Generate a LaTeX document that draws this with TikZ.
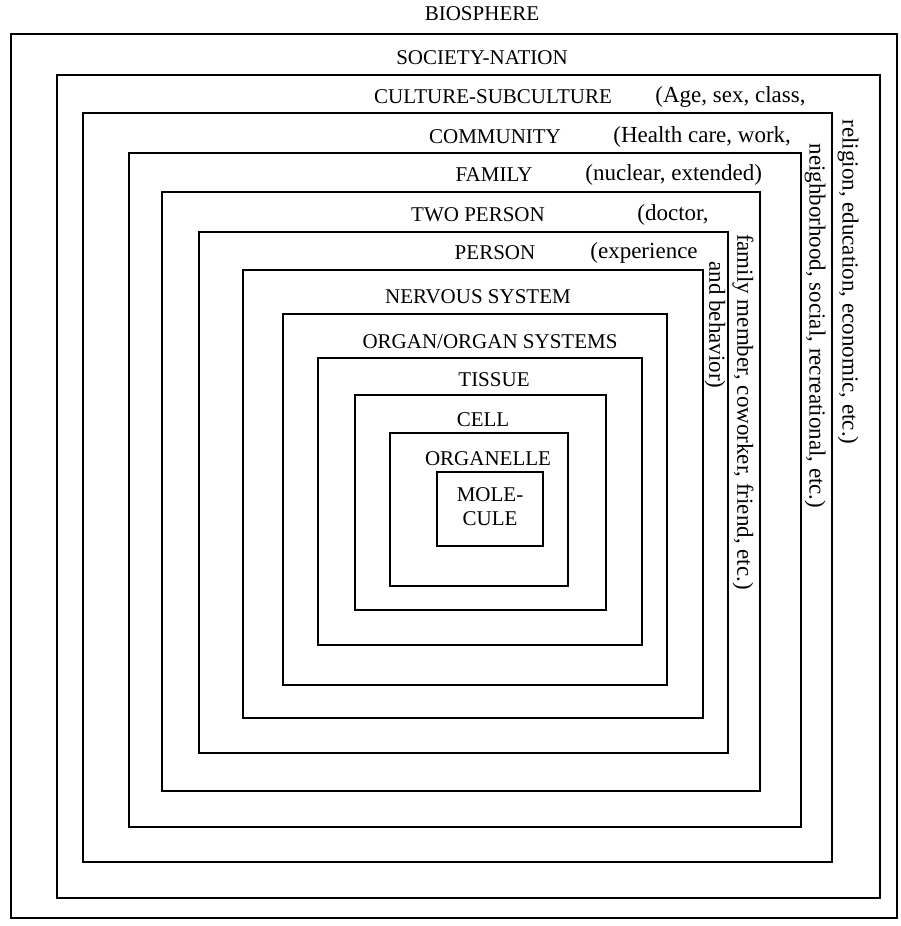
\documentclass[tikz,border=0pt]{standalone}
\usepackage{fontspec}
\setmainfont{Liberation Serif}
\tikzset{level/.style={line width=1.2pt},
  lvlabel/.style={font=\fontsize{10.5}{12}\selectfont, inner sep=1pt},
  note/.style={lvlabel, font=\fontsize{11.5}{13}\selectfont, anchor=west},
  sidenote/.style={note, anchor=center, rotate=-90}}

\begin{document}
\begin{tikzpicture}[x=0.5pt,y=-0.5pt]
  \useasboundingbox (0,0) rectangle (900,926);
  % nested levels: left, top, right, bottom
  \foreach \l/\t/\r/\b in {11/34/897/918, 57/75/880/898, 83/113/832/862,
      129/153/801/827, 162/192/760/791, 199/232/728/753, 243/270/703/718,
      283/314/667/685, 318/358/642/645, 355/395/606/610, 390/433/568/586,
      437/472/543/546}
    \draw[level] (\l,\t) rectangle (\r,\b);
  % level names
  \node[lvlabel] (bio)  at (482,14)  {BIOSPHERE};
  \node[lvlabel] (soc)  at (482,58)  {SOCIETY-NATION};
  \node[lvlabel] (cult) at (493,97)  {CULTURE-SUBCULTURE};
  \node[lvlabel] (comm) at (495,137) {COMMUNITY};
  \node[lvlabel] (fam)  at (494,175) {FAMILY};
  \node[lvlabel] (two)  at (478,215) {TWO PERSON};
  \node[lvlabel] (pers) at (495,253) {PERSON};
  \node[lvlabel] (nerv) at (478,297) {NERVOUS SYSTEM};
  \node[lvlabel] (org)  at (490,342) {ORGAN/ORGAN SYSTEMS};
  \node[lvlabel] (tis)  at (494,380) {TISSUE};
  \node[lvlabel] (cell) at (483,420) {CELL};
  \node[lvlabel] (orgl) at (488,459) {ORGANELLE};
  \node[lvlabel, align=center] (mol) at (490,507) {MOLE-\\CULE};
  % examples in brackets
  \node[note] (cultx) at (653,97)  {(Age, sex, class,};
  \node[note] (commx) at (611,137) {(Health care, work,};
  \node[note] (famx)  at (583,175) {(nuclear, extended)};
  \node[note] (twox)  at (635,215) {(doctor,};
  \node[note] (persx) at (588,253) {(experience};
  \node[sidenote] (cultr) at (848,282) {religion, education, economic, etc.)};
  \node[sidenote] (commr) at (815,326) {neighborhood, social, recreational, etc.)};
  \node[sidenote] (twor)  at (743,412) {family member, coworker, friend, etc.)};
  \node[sidenote] (persr) at (715,325) {and behavior)};
\end{tikzpicture}
\end{document}
